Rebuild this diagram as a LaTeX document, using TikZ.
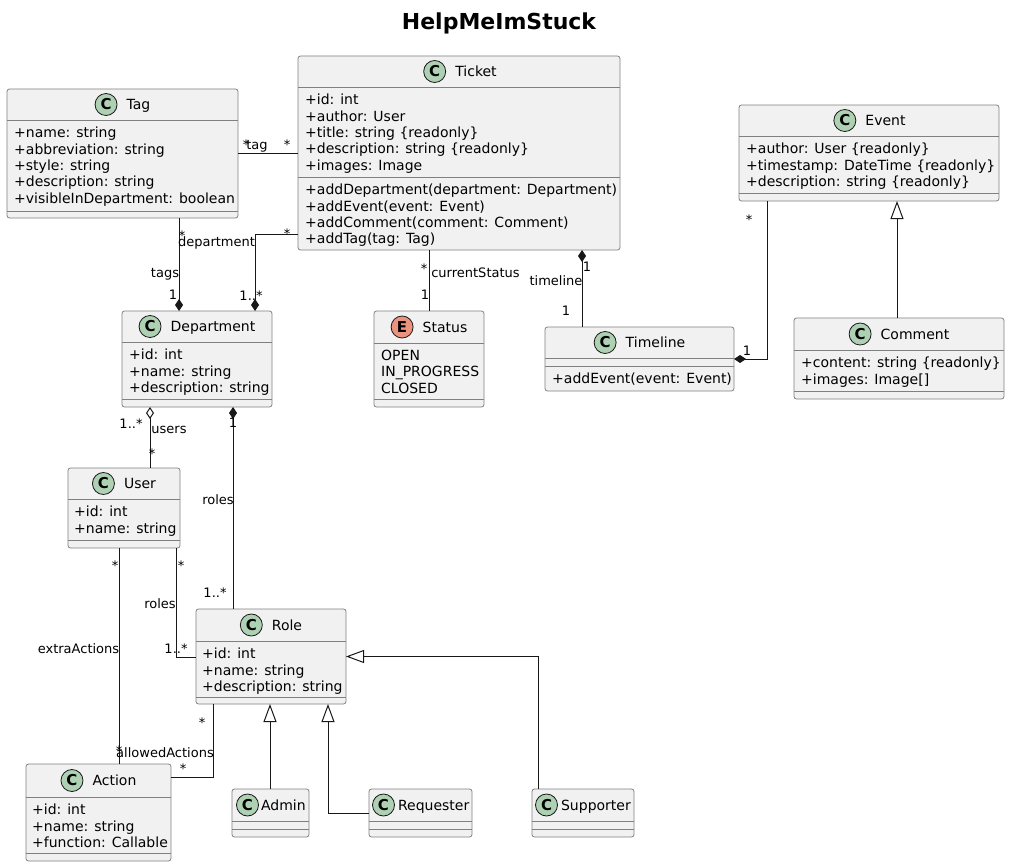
\documentclass[tikz,border=0pt]{standalone}
\usepackage{fontspec}
\setmainfont{DejaVu Sans}
\usepackage{tikz}
\usetikzlibrary{positioning,arrows.meta}
\definecolor{boxfill}{HTML}{F1F1F1}
\definecolor{boxline}{HTML}{808080}
\definecolor{classmark}{HTML}{ADD1B2}
\definecolor{enummark}{HTML}{EB937F}
\definecolor{ink}{HTML}{181818}

\begin{document}
\begin{tikzpicture}[
  x=1pt, y=-1pt,
  cbox/.style={draw=boxline, fill=boxfill, rounded corners=2.5pt, line width=0.8pt, inner sep=0pt, outer sep=0pt},
  sep/.style={draw=boxline, line width=0.8pt},
  cname/.style={font=\fontsize{14}{16}\selectfont, inner sep=0pt, text height=12pt, text depth=2pt},
  cmark/.style={circle, draw=ink, line width=0.8pt, fill=classmark, minimum size=22pt, inner sep=0pt, font=\fontsize{15}{15}\selectfont\bfseries},
  emark/.style={cmark, fill=enummark},
  members/.style={font=\fontsize{14}{16.3}\selectfont, align=left, inner sep=0pt, anchor=north west},
  lbl/.style={font=\fontsize{13}{13}\selectfont, inner sep=0pt, anchor=base},
  link/.style={draw=ink, line width=1pt},
  compo/.style={link, -{Diamond[length=12pt, width=8pt]}},
  owner/.style={link, {Diamond[length=12pt, width=8pt]}-},
  shared/.style={link, {Diamond[open, length=12pt, width=8pt]}-},
  isa/.style={link, -{Triangle[open, length=18pt, width=13pt]}}
]
  \useasboundingbox (0,0) rectangle (1010,867);
  \node[font=\fontsize{22}{22}\selectfont\bfseries, inner sep=0pt, anchor=base] (title) at (499,30) {HelpMeImStuck};

  % class boxes
  \node[cbox, minimum width=231, minimum height=129] (tag) at (122.5,153.5) {};
  \node[cbox, minimum width=322, minimum height=194] (ticket) at (459,153) {};
  \node[cbox, minimum width=260, minimum height=96] (event) at (869,153) {};
  \node[cbox, minimum width=210, minimum height=81] (comment) at (899,358.5) {};
  \node[cbox, minimum width=189, minimum height=64] (timeline) at (639.5,359) {};
  \node[cbox, minimum width=110, minimum height=96] (status) at (429,359) {};
  \node[cbox, minimum width=150, minimum height=96] (department) at (197,359) {};
  \node[cbox, minimum width=112, minimum height=80] (user) at (124,508) {};
  \node[cbox, minimum width=150, minimum height=95] (role) at (271,656.5) {};
  \node[cbox, minimum width=145, minimum height=97] (action) at (98.5,812.5) {};
  \node[cbox, minimum width=77, minimum height=48] (admin) at (270.5,813) {};
  \node[cbox, minimum width=103, minimum height=48] (requester) at (420.5,813) {};
  \node[cbox, minimum width=102, minimum height=48] (supporter) at (583,813) {};

  \foreach \c/\y in {tag/120, tag/211, ticket/87, ticket/177, event/136, event/193,
    comment/350, comment/391, timeline/358, timeline/366, status/343, status/399,
    department/342, department/399, user/499, user/540, role/641, role/697,
    action/797, action/853, admin/821, admin/829, requester/821, requester/829,
    supporter/821, supporter/829}
    \draw[sep] (\c.west |- 0,\y) -- (\c.east |- 0,\y);

  % headers
  \node[cname] (tag-name) at (138.5,104.5) {Tag};
  \node[cmark, left=9pt of tag-name] (tag-mark) {C};
  \node[cname] (ticket-name) at (476,71.5) {Ticket};
  \node[cmark, left=9pt of ticket-name] (ticket-mark) {C};
  \node[cname] (event-name) at (885.5,120.5) {Event};
  \node[cmark, left=9pt of event-name] (event-mark) {C};
  \node[cname] (comment-name) at (915,334) {Comment};
  \node[cmark, left=9pt of comment-name] (comment-mark) {C};
  \node[cname] (timeline-name) at (655.5,342.5) {Timeline};
  \node[cmark, left=9pt of timeline-name] (timeline-mark) {C};
  \node[cname] (status-name) at (445,327) {Status};
  \node[emark, left=9pt of status-name] (status-mark) {E};
  \node[cname] (department-name) at (213,326.5) {Department};
  \node[cmark, left=9pt of department-name] (department-mark) {C};
  \node[cname] (user-name) at (140,483.5) {User};
  \node[cmark, left=9pt of user-name] (user-mark) {C};
  \node[cname] (role-name) at (287,625) {Role};
  \node[cmark, left=9pt of role-name] (role-mark) {C};
  \node[cname] (action-name) at (114.5,780.5) {Action};
  \node[cmark, left=9pt of action-name] (action-mark) {C};
  \node[cmark] (admin-mark) at (247.5,805) {C};
  \node[cname, right=2pt of admin-mark] (admin-name) {Admin};
  \node[cmark] (requester-mark) at (383.5,805) {C};
  \node[cname, right=3pt of requester-mark] (requester-name) {Requester};
  \node[cmark] (supporter-mark) at (546.5,805) {C};
  \node[cname, right=3pt of supporter-mark] (supporter-name) {Supporter};

  % members
  \node[members] (tag-attr) at (14,127) {+name: string\\+abbreviation: string\\+style: string\\+description: string\\+visibleInDepartment: boolean};
  \node[members] (ticket-attr) at (305,94) {+id: int\\+author: User\\+title: string \{readonly\}\\+description: string \{readonly\}\\+images: Image};
  \node[members] (ticket-ops) at (305,184) {+addDepartment(department: Department)\\+addEvent(event: Event)\\+addComment(comment: Comment)\\+addTag(tag: Tag)};
  \node[members] (event-attr) at (746,143) {+author: User \{readonly\}\\+timestamp: DateTime \{readonly\}\\+description: string \{readonly\}};
  \node[members] (comment-attr) at (801,357) {+content: string \{readonly\}\\+images: Image[]};
  \node[members] (timeline-ops) at (552,373) {+addEvent(event: Event)};
  \node[members] (status-vals) at (381,350) {OPEN\\IN\_PROGRESS\\CLOSED};
  \node[members] (department-attr) at (129,349) {+id: int\\+name: string\\+description: string};
  \node[members] (user-attr) at (74,506) {+id: int\\+name: string};
  \node[members] (role-attr) at (202,648) {+id: int\\+name: string\\+description: string};
  \node[members] (action-attr) at (32,804) {+id: int\\+name: string\\+function: Callable};

  % links
  \draw[link] (tag.east) -- (tag.east -| ticket.west);
  \draw[compo] (tag.south -| 179,0) -- (department.north -| 179,0);
  \draw[compo] (ticket.west |- 0,234) -| (department.north -| 255,0);
  \draw[link] (ticket.south -| status.north) -- (status.north);
  \draw[owner] (ticket.south -| 582,0) -- (timeline.north -| 582,0);
  \draw[compo] (event.south -| 767,0) |- (timeline.east);
  \draw[isa] (comment.north -| 897,0) -- (event.south -| 897,0);
  \draw[shared] (department.south -| 150,0) -- (user.north -| 150,0);
  \draw[owner] (department.south -| 233,0) -- (role.north -| 233,0);
  \draw[link] (user.south -| 176,0) |- (role.west |- 0,657);
  \draw[link] (user.south -| 119,0) -- (action.north -| 119,0);
  \draw[link] (role.south -| 213,0) |- (action.east |- 0,777);
  \draw[isa] (admin.north -| 270,0) -- (role.south -| 270,0);
  \draw[isa] (requester.west) -| (role.south -| 328,0);
  \draw[isa] (supporter.north -| 538,0) |- (role.east);

  % link labels
  \node[lbl] (tt1) at (246,149) {*};
  \node[lbl] (tt2) at (257,149) {tag};
  \node[lbl] (tt3) at (287,149) {*};
  \node[lbl] (td1) at (182,240) {*};
  \node[lbl] (td2) at (216.5,246) {department};
  \node[lbl] (td3) at (165,277) {tags};
  \node[lbl] (td4) at (173,299) {1};
  \node[lbl] (kd1) at (287,238) {*};
  \node[lbl] (kd2) at (251,300) {1..*};
  \node[lbl] (ks1) at (424,273) {*};
  \node[lbl] (ks2) at (475.5,277) {currentStatus};
  \node[lbl] (ks3) at (425,299) {1};
  \node[lbl] (kt1) at (587,271) {1};
  \node[lbl] (kt2) at (556,285) {timeline};
  \node[lbl] (kt3) at (566,315) {1};
  \node[lbl] (et1) at (749,224) {*};
  \node[lbl] (et2) at (747,355) {1};
  \node[lbl] (du1) at (131,428) {1..*};
  \node[lbl] (du2) at (169,433) {users};
  \node[lbl] (du3) at (152,458) {*};
  \node[lbl] (dr1) at (233,427) {1};
  \node[lbl] (dr2) at (218,504) {roles};
  \node[lbl] (dr3) at (215,597) {1..*};
  \node[lbl] (ur1) at (181,570) {*};
  \node[lbl] (ur2) at (160,608) {roles};
  \node[lbl] (ur3) at (176,653) {1..*};
  \node[lbl] (ua1) at (115,570) {*};
  \node[lbl] (ua2) at (78.5,653) {extraActions};
  \node[lbl] (ua3) at (119,755) {*};
  \node[lbl] (ra1) at (202,727) {*};
  \node[lbl] (ra2) at (165,757) {allowedActions};
  \node[lbl] (ra3) at (183,773) {*};
\end{tikzpicture}
\end{document}
